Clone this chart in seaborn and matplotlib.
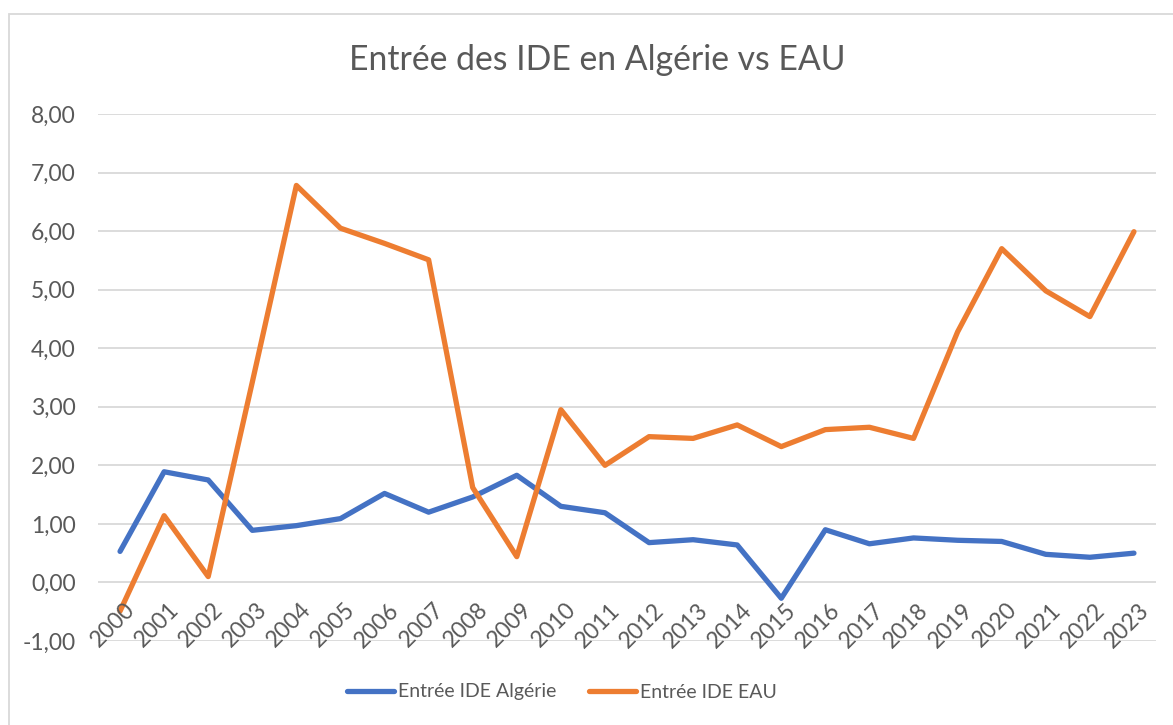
import pandas as pd
import matplotlib.pyplot as plt
import matplotlib.patches as mpatches
import seaborn as sns

# Data
years = [str(y) for y in range(2000, 2024)]
algerie = [0.53, 1.89, 1.75, 0.89, 0.97, 1.09, 1.52, 1.20, 1.46, 1.83, 1.30, 1.19,
           0.68, 0.73, 0.64, -0.27, 0.90, 0.66, 0.76, 0.72, 0.70, 0.48, 0.43, 0.50]
eau = [-0.49, 1.14, 0.10, 3.42, 6.78, 6.05, 5.79, 5.51, 1.62, 0.44, 2.95, 2.00,
       2.49, 2.46, 2.69, 2.32, 2.61, 2.65, 2.46, 4.28, 5.70, 4.98, 4.54, 5.99]
series_names = ["Entrée IDE Algérie", "Entrée IDE EAU"]
colors = ["#4472C4", "#ED7D31"]
text_color = "#595959"
grid_color = "#D9D9D9"

df = pd.DataFrame({
    "idx": list(range(len(years))) * 2,
    "year": years * 2,
    "value": algerie + eau,
    "serie": [series_names[0]] * len(years) + [series_names[1]] * len(years),
})

sns.set_style("white")
plt.rcParams['font.family'] = ['Lato', 'DejaVu Sans']
fs = 16.5

fig = plt.figure(figsize=(11.73, 7.25), dpi=100)
ax = fig.add_axes([98 / 1173, 1 - 641 / 725, (1156 - 98) / 1173, (641 - 114) / 725])

sns.lineplot(data=df, x="idx", y="value", hue="serie", palette=colors, ax=ax,
             linewidth=3.8, solid_capstyle='round', solid_joinstyle='round', legend=True)

ax.set_xlim(-0.5, len(years) - 0.5)
ax.set_ylim(-1, 8)
ax.set_yticks(range(-1, 9))
ax.set_yticklabels([f"{v},00" for v in range(-1, 9)], fontsize=fs, color=text_color)
ax.tick_params(axis='y', length=0, pad=16)
ax.set_xticks([])
ax.set_xlabel("")
ax.set_ylabel("")
for s in ax.spines.values():
    s.set_visible(False)
for v in range(-1, 9):
    ax.axhline(v, color=grid_color, linewidth=1.3, zorder=0)

# year labels sit next to the axis at 0, rotated
for i, y in enumerate(years):
    ax.annotate(y, xy=(i, 0), xytext=(3, -12), textcoords='offset points',
                rotation=45, rotation_mode='anchor', ha='right', va='top',
                fontsize=fs, color=text_color)

ax.get_legend().remove()
handles = [plt.Line2D([], [], color=c, linewidth=3.8, solid_capstyle='round') for c in colors]
fig.legend(handles, series_names, loc='center', bbox_to_anchor=(562 / 1173, 1 - 692 / 725),
           ncol=2, frameon=False, fontsize=14, labelcolor=text_color,
           handlelength=2.45, handletextpad=0.2, columnspacing=1.65)

fig.text(597 / 1173, 1 - 60 / 725, "Entrée des IDE en Algérie vs EAU",
         ha='center', va='center', fontsize=24.3, color=text_color)

# chart border
fig.patches.append(mpatches.Rectangle((9 / 1173, -0.05), 1.1, 1 - 14 / 725 + 0.05,
                                      transform=fig.transFigure, fill=False,
                                      edgecolor=grid_color, linewidth=1.3))

fig.savefig("out.png", dpi=100)
